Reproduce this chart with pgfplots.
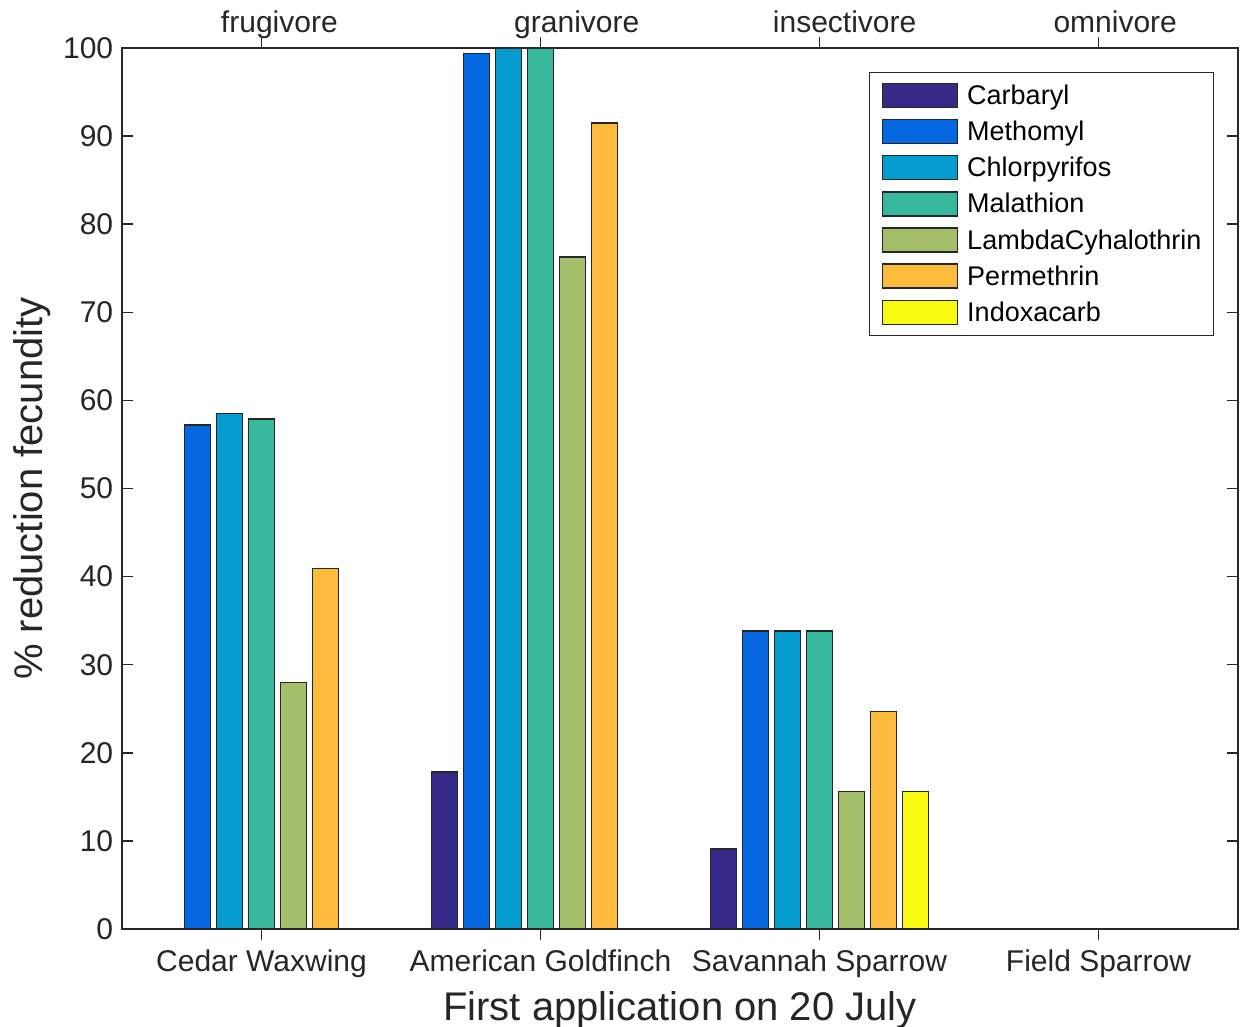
\documentclass[border=0pt]{standalone}
\usepackage{fontspec}
\setmainfont{Liberation Sans}
\usepackage{pgfplots}
\pgfplotsset{compat=1.18}
\definecolor{axgray}{RGB}{38,38,38}
\definecolor{c1}{RGB}{53,42,135}
\definecolor{c2}{RGB}{5,104,224}
\definecolor{c3}{RGB}{7,156,207}
\definecolor{c4}{RGB}{55,184,157}
\definecolor{c5}{RGB}{165,190,106}
\definecolor{c6}{RGB}{252,187,61}
\definecolor{c7}{RGB}{248,250,15}
\begin{document}
\begin{tikzpicture}
\begin{axis}[
  scale only axis, width=446.4pt, height=352.4pt,
  xmin=0.5, xmax=4.5, ymin=0, ymax=100,
  xtick={1,2,3,4},
  xticklabels={Cedar Waxwing, American Goldfinch, Savannah Sparrow, Field Sparrow},
  ytick={0,10,...,100},
  tick pos=both, tick align=inside, major tick length=4.4pt,
  axis line style={axgray, line width=0.6pt},
  every tick/.style={axgray, line width=0.6pt},
  tick label style={font=\fontsize{12}{14}\selectfont, text=axgray},
  xticklabel style={anchor=base, yshift=-12.8pt},
  /pgf/number format/assume math mode=true,
  xlabel={First application on 20 July},
  ylabel={\% reduction fecundity},
  every axis x label/.style={at={(axis description cs:0.5,0)}, anchor=center, yshift=-32.4pt, font=\fontsize{16}{19}\selectfont, text=axgray},
  every axis y label/.style={at={(axis description cs:0,0.5)}, xshift=-36pt, rotate=90, anchor=center, font=\fontsize{16}{19}\selectfont, text=axgray},
  ybar, bar width=10.4pt,
  clip=false,
  legend cell align=left,
  legend style={at={(1,1)}, anchor=north east, xshift=-9.6pt, yshift=-9.6pt,
    draw=axgray, line width=0.5pt, fill=white,
    font=\fontsize{10.8}{12}\selectfont, text=black,
    inner xsep=4.8pt, inner ysep=4.0pt, row sep=4.2pt, column sep=3.6pt,
    nodes={inner sep=0pt}},
  legend image code/.code={\draw[#1] (0pt,-4.3pt) rectangle (30pt,5.3pt);},
  every axis plot/.append style={draw=black!85, line width=0.6pt},
]
\addplot[fill=c1, bar shift=-38.4pt] coordinates {(2,17.8) (3,9.1)};
\addplot[fill=c2, bar shift=-25.6pt] coordinates {(1,57.2) (2,99.4) (3,33.8)};
\addplot[fill=c3, bar shift=-12.8pt] coordinates {(1,58.5) (2,100) (3,33.8)};
\addplot[fill=c4, bar shift=0pt] coordinates {(1,57.9) (2,100) (3,33.8)};
\addplot[fill=c5, bar shift=12.8pt] coordinates {(1,28.0) (2,76.3) (3,15.6)};
\addplot[fill=c6, bar shift=25.6pt] coordinates {(1,40.9) (2,91.5) (3,24.7)};
\addplot[fill=c7, bar shift=38.4pt] coordinates {(3,15.6)};
\legend{Carbaryl, Methomyl, Chlorpyrifos, Malathion, LambdaCyhalothrin, Permethrin, Indoxacarb}
\node[anchor=base, font=\fontsize{12}{14}\selectfont, text=axgray] at ([yshift=6pt]axis cs:1.064,100) {frugivore};
\node[anchor=base, font=\fontsize{12}{14}\selectfont, text=axgray] at ([yshift=6pt]axis cs:2.13,100) {granivore};
\node[anchor=base, font=\fontsize{12}{14}\selectfont, text=axgray] at ([yshift=6pt]axis cs:3.09,100) {insectivore};
\node[anchor=base, font=\fontsize{12}{14}\selectfont, text=axgray] at ([yshift=6pt]axis cs:4.06,100) {omnivore};
\end{axis}
\pgfresetboundingbox
\path[use as bounding box] ([xshift=-48.8pt,yshift=-39.2pt]current axis.south west) rectangle ([xshift=2.4pt,yshift=19.2pt]current axis.north east);
\end{tikzpicture}
\end{document}
